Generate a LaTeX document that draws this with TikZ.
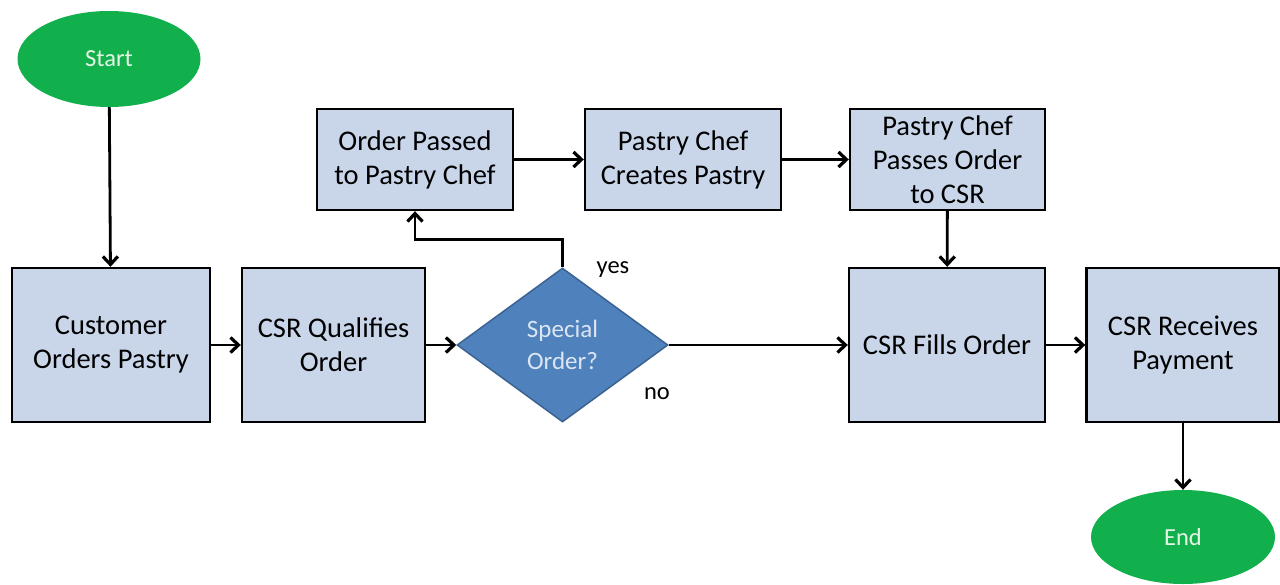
\documentclass[tikz,border=0pt]{standalone}
\usepackage{fontspec}
\setmainfont{Carlito}
\usetikzlibrary{shapes.geometric,arrows.meta}
\definecolor{boxfill}{HTML}{C9D6EA}
\definecolor{decfill}{HTML}{4F81BD}
\definecolor{decline}{HTML}{3A6391}
\definecolor{dectext}{HTML}{DCE6F2}
\definecolor{termfill}{HTML}{12B04C}
\definecolor{termtext}{HTML}{E4F5E4}
\tikzset{
  process/.style={draw=black, line width=2.4pt, fill=boxfill, rectangle,
    align=center, font=\fontsize{28.5}{34}\selectfont, inner sep=0pt},
  terminal/.style={ellipse, fill=termfill, text=termtext, inner sep=0pt,
    font=\fontsize{24.5}{29}\selectfont},
  decision/.style={diamond, fill=decfill, draw=decline, line width=1.5pt,
    text=dectext, align=center, inner sep=0pt, aspect=1.37,
    font=\fontsize{25}{32}\selectfont},
  flow/.style={line width=2.8pt, -{Straight Barb[length=8pt,width=15pt,line width=3.2pt]}},
  lbl/.style={font=\fontsize{24.5}{29}\selectfont}
}
\begin{document}
\begin{tikzpicture}[x=1pt,y=-1pt]
\useasboundingbox (0,0) rectangle (1280,584);
% terminals
\node[terminal, minimum width=183pt, minimum height=96pt] (start) at (109,59) {Start};
\node[terminal, minimum width=184pt, minimum height=94pt] (end) at (1183,537) {End};
% bottom row
\node[process, minimum width=198pt, minimum height=154pt] (cust) at (111,345) {Customer\\Orders Pastry};
\node[process, minimum width=183pt, minimum height=154pt] (qual) at (333.5,345) {CSR Qualifies\\Order};
\node[decision, minimum width=211pt, minimum height=154pt] (spec) at (562.5,345) {Special\\Order?};
\node[process, minimum width=196pt, minimum height=154pt] (fill) at (947,345) {CSR Fills Order};
\node[process, minimum width=193pt, minimum height=154pt] (pay) at (1183,345) {CSR Receives\\Payment};
% top row
\node[process, minimum width=196pt, minimum height=101pt] (pass) at (415,159.5) {Order Passed\\to Pastry Chef};
\node[process, minimum width=196pt, minimum height=101pt] (make) at (683,159.5) {Pastry Chef\\Creates Pastry};
\node[process, minimum width=195pt, minimum height=101pt] (back) at (947.5,159.5) {Pastry Chef\\Passes Order\\to CSR};
% connectors
\draw[flow] (start) -- (cust);
\draw[flow] (cust) -- (qual);
\draw[flow] (qual) -- (spec);
\draw[flow] (spec.north) -- ++(0,-28) -| (pass.south);
\draw[flow] (spec) -- (fill);
\draw[flow] (pass) -- (make);
\draw[flow] (make) -- (back);
\draw[flow] (back) -- (fill);
\draw[flow] (fill) -- (pay);
\draw[flow] (pay.south) -- (end.north);
% branch labels
\node[lbl] (yes) at (613,270) {yes};
\node[lbl] (no) at (657,394) {no};
\end{tikzpicture}
\end{document}
